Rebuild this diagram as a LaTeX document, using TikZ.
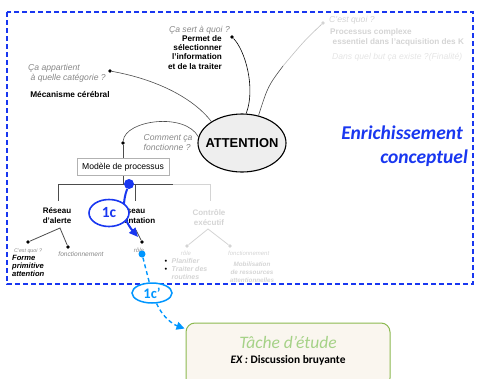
\documentclass[tikz,border=0pt]{standalone}
\usepackage{fontspec}
\setmainfont{Liberation Sans}
\newfontfamily\calibrifont{Carlito}
\usetikzlibrary{arrows.meta,shapes.geometric}

\definecolor{enrblue}{RGB}{25,55,240}
\definecolor{skyblue}{RGB}{0,150,255}
\definecolor{qgray}{RGB}{135,135,135}
\definecolor{fadegray}{RGB}{212,212,212}
\definecolor{palegray}{RGB}{228,228,228}
\definecolor{tacheline}{RGB}{140,185,80}
\definecolor{tachefill}{RGB}{250,246,239}
\definecolor{tachetext}{RGB}{165,210,135}

\tikzset{
  every node/.style={inner sep=0pt},
  question/.style={font=\fontsize{8.6}{10}\selectfont\itshape, text=qgray, align=left},
  answer/.style={font=\fontsize{8.2}{9.3}\selectfont\bfseries},
  branchname/.style={font=\fontsize{8}{10}\selectfont\bfseries, align=center},
  small/.style={font=\fontsize{6.6}{8}\selectfont\itshape, text=qgray},
  blackdot/.style={circle, fill=black, minimum size=3.8pt},
  fadedot/.style={circle, fill=fadegray, minimum size=3.8pt},
  thinlink/.style={draw=black!70, line width=0.6pt},
  branch/.style={draw=black!70, line width=0.8pt},
  fadebranch/.style={draw=fadegray, line width=0.8pt},
  stepoval/.style={ellipse, draw, fill=white, font=\calibrifont\bfseries},
}

\begin{document}
\begin{tikzpicture}[x=1pt, y=-1pt]
  \useasboundingbox (0,0) rectangle (477,378);
  \clip (0,0) rectangle (477,378);

  % cadre enrichissement
  \draw[enrblue, line width=1.2pt, dash pattern=on 5pt off 3pt] (7,12) rectangle (473,284);
  \node[font=\calibrifont\fontsize{19.5}{25}\selectfont\bfseries\itshape, text=enrblue, anchor=base east] (enrich) at (463,139.5) {Enrichissement};
  \node[font=\calibrifont\fontsize{19.5}{25}\selectfont\bfseries\itshape, text=enrblue, anchor=base east] (concept) at (468,163.5) {conceptuel};

  % noeud central
  \node[ellipse, draw, line width=1.1pt, fill=gray!13, minimum width=88, minimum height=58, font=\fontsize{12.9}{14}\selectfont\bfseries] (attn) at (242,143) {\makebox[0pt]{ATTENTION}};

  % categorie
  \node[question, anchor=north west] (catq) at (28,64.5) {Ça appartient\\\hspace{2.5pt}à quelle catégorie ?};
  \node[answer, font=\fontsize{8.3}{9.3}\selectfont\bfseries] (cata) at (70,94) {Mécanisme cérébral};
  \node[blackdot] (catdot) at (110,71) {};
  \draw[thinlink] (catdot) .. controls (160,80) and (195,100) .. (attn.145);

  % a quoi ca sert
  \node[question, anchor=east] (butq) at (230,30) {Ça sert à quoi ?};
  \node[answer, align=right, anchor=north east] (buta) at (222,35) {Permet de\\sélectionner\\l'information\\et de la traiter};
  \node[blackdot] (butdot) at (232,37) {};
  \draw[thinlink, draw=black] (butdot) .. controls (245,50) and (256,88) .. (attn.82);

  % c'est quoi
  \node[question, text=fadegray, anchor=west] (quoiq) at (329,20) {C'est quoi ?};
  \node[answer, font=\fontsize{8.2}{10}\selectfont\bfseries, text=fadegray, align=left, anchor=north west] (quoia) at (330,28.5) {Processus complexe\\\hspace{2.5pt}essentiel dans l'acquisition des K};
  \node[question, text=palegray, anchor=west] (finq) at (332,57) {Dans quel but ça existe ?(Finalité)};
  \node[fadedot] (quoidot) at (323,23) {};
  \coordinate (quoimid) at (283,66);
  \draw[thinlink, draw=black!25] (quoidot) .. controls (305,40) .. (quoimid);
  \draw[thinlink] (quoimid) .. controls (268,86) .. (attn.59);

  % comment ca fonctionne
  \node[question, anchor=north west] (howq) at (143.5,134) {Comment ça\\fonctionne ?};
  \node[blackdot] (howdot) at (123,143) {};
  \node[draw=black!30, line width=0.6pt, minimum width=92, minimum height=17, font=\fontsize{8.6}{9}\selectfont] (model) at (123,167) {Modèle de processus};
  \draw[thinlink] (howdot) .. controls (125,120) and (185,112) .. (attn.172);
  \draw[branch] (howdot) -- (model);

  % arbre des reseaux
  \coordinate (treeL) at (58,184);
  \coordinate (treeO) at (135,184);
  \coordinate (treeR) at (173,184);
  \coordinate (treeF) at (210,184);
  \draw[branch] (model) -- (model |- treeL);
  \draw[branch] (treeL) -- (treeR);
  \draw[fadebranch] (treeR) -- (treeF);
  \draw[branch] (treeL) -- ++(0,17);
  \draw[branch] (treeO) -- ++(0,17);
  \draw[fadebranch] (treeF) -- ++(0,17);

  \node[branchname] (alerte) at (57,216) {Réseau\\d'alerte};
  \node[branchname] (orient) at (131,216) {Réseau\\d'orientation};
  \node[branchname, text=fadegray] (controle) at (209,218) {Contrôle\\exécutif};

  % reseau d'alerte
  \coordinate (alapex) at (60,228);
  \node[blackdot] (alqdot) at (28,242) {};
  \node[blackdot] (alfdot) at (68,247) {};
  \draw[branch] (alqdot) -- (alapex) -- (alfdot);
  \node[font=\fontsize{5.3}{6}\selectfont\itshape, text=qgray] (alq) at (28,251) {C'est quoi ?};
  \node[small] (alf) at (81,254) {fonctionnement};
  \node[font=\fontsize{7.6}{8}\selectfont\bfseries\itshape, align=left, anchor=north west] (ala) at (12,255) {Forme\\primitive\\attention};

  % reseau d'orientation
  \coordinate (orapex) at (136,230);
  \node[blackdot] (ordot) at (142,242) {};
  \draw[branch] (orapex) -- (ordot);
  \node[font=\fontsize{6}{6}\selectfont\itshape, text=qgray] (orrole) at (139,250) {rôle};

  % controle executif
  \coordinate (ctapex) at (208,229);
  \node[fadedot] (ctrdot) at (187,246) {};
  \node[fadedot] (ctfdot) at (230,246) {};
  \draw[fadebranch] (ctrdot) -- (ctapex) -- (ctfdot);
  \node[font=\fontsize{6}{6}\selectfont\itshape, text=fadegray] (ctrole) at (186,253.5) {rôle};
  \node[font=\fontsize{6}{6}\selectfont\itshape, text=fadegray, anchor=west] (ctfonc) at (228,253.5) {fonctionnement};
  \node[font=\fontsize{7}{8}\selectfont\bfseries\itshape, text=fadegray, align=left, anchor=north west] (ctlist) at (164.5,258.5)
    {{\color{black}\textbullet}\hspace{4.5pt}Planifier\\{\color{black}\textbullet}\hspace{4.5pt}Traiter des\\\phantom{\textbullet}\hspace{4.5pt}routines};
  \node[font=\fontsize{6.3}{8}\selectfont\bfseries\itshape, text=fadegray, align=center] (ctmob) at (252,272) {Mobilisation\\de ressources\\attentionnelles};

  % etape 1c
  \node[circle, fill=enrblue, minimum size=10pt] (bluedot) at (129,184) {};
  \draw[enrblue, line width=2pt, -{Triangle[length=9pt,width=8pt]}] (bluedot) .. controls (123,200) and (121,217) .. (138,237);
  \node[stepoval, draw=enrblue, line width=1.6pt, text=enrblue, minimum width=40, minimum height=27, font=\calibrifont\bfseries\fontsize{15.5}{16}\selectfont] (stepc) at (109,213) {1c};

  % etape 1c'
  \node[circle, fill=skyblue, minimum size=7pt] (skydot) at (142,254) {};
  \node[stepoval, draw=skyblue, line width=1.5pt, text=skyblue, minimum width=40, minimum height=20, font=\calibrifont\bfseries\fontsize{14.5}{15}\selectfont] (stepcc) at (152,293) {1c’};
  \draw[skyblue, line width=1.4pt, dash pattern=on 4pt off 3pt] (skydot) -- (stepcc);

  % tache d'etude
  \node[draw=tacheline, line width=1pt, fill=tachefill, rounded corners=9pt, minimum width=204, minimum height=64] (tache) at (288,355) {};
  \node[font=\calibrifont\itshape\fontsize{17.5}{18}\selectfont, text=tachetext] (tachetitle) at (288,342) {Tâche d’étude};
  \node[font=\calibrifont\bfseries\fontsize{11.4}{12}\selectfont] (tacheex) at (288,360.5) {\textit{EX :} Discussion bruyante};
  \draw[skyblue, line width=1.4pt, dash pattern=on 4pt off 3pt, -{Triangle[length=8pt,width=8pt]}] (stepcc) .. controls (162,316) and (172,324) .. ([shift={(-1,6)}]tache.north west);
\end{tikzpicture}
\end{document}
